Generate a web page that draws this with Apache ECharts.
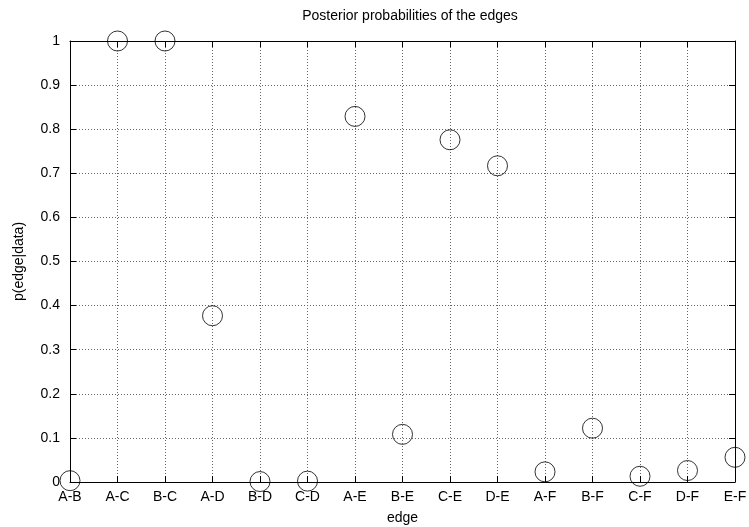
<!DOCTYPE html>
<html>
<head>
<meta charset="utf-8">
<script src="https://cdn.jsdelivr.net/npm/echarts@6/dist/echarts.min.js"></script>
<style>
html, body { margin: 0; padding: 0; background: #fff; }
#main { width: 749px; height: 527px; }
</style>
</head>
<body>
<div id="main"></div>
<script>
var edges = ['A-B', 'A-C', 'B-C', 'A-D', 'B-D', 'C-D', 'A-E', 'B-E', 'C-E', 'D-E', 'A-F', 'B-F', 'C-F', 'D-F', 'E-F'];
var probs = [0.003, 1.0, 1.0, 0.377, 0.001, 0.002, 0.829, 0.108, 0.776, 0.717, 0.023, 0.122, 0.013, 0.026, 0.056];

var font = 'Liberation Sans, Arial, sans-serif';
var chart = echarts.init(document.getElementById('main'));

var gridLine = { show: true, lineStyle: { color: '#666', type: [1, 2], width: 1 } };
var boxLine = { show: true, onZero: false, lineStyle: { color: '#000', width: 1 } };
var tickIn = { show: true, inside: true, length: 6, lineStyle: { color: '#000' } };

var option = {
    animation: false,
    backgroundColor: '#fff',
    title: {
        text: 'Posterior probabilities of the edges',
        left: 405,
        textAlign: 'center',
        top: 4,
        textStyle: { fontFamily: font, fontSize: 14, fontWeight: 'normal', color: '#000' }
    },
    grid: { left: 70, right: 14, top: 41, bottom: 45, outerBoundsMode: 'none', containLabel: false },
    xAxis: [{
        type: 'category',
        data: edges,
        boundaryGap: false,
        name: 'edge',
        nameLocation: 'middle',
        nameGap: 29,
        nameTextStyle: { fontFamily: font, fontSize: 14, color: '#000' },
        axisLine: boxLine,
        axisTick: tickIn,
        axisLabel: { fontFamily: font, fontSize: 14, color: '#000', margin: 8, interval: 0 },
        splitLine: gridLine
    }, {
        type: 'category',
        data: edges,
        boundaryGap: false,
        position: 'top',
        axisLine: boxLine,
        axisTick: tickIn,
        axisLabel: { show: false },
        splitLine: { show: false }
    }],
    yAxis: [{
        type: 'value',
        min: 0,
        max: 1,
        interval: 0.1,
        name: 'p(edge|data)',
        nameLocation: 'middle',
        nameGap: 44,
        nameTextStyle: { fontFamily: font, fontSize: 14, color: '#000' },
        axisLine: boxLine,
        axisTick: tickIn,
        axisLabel: { fontFamily: font, fontSize: 14, color: '#000', margin: 10 },
        splitLine: gridLine
    }, {
        type: 'value',
        min: 0,
        max: 1,
        interval: 0.1,
        position: 'right',
        axisLine: boxLine,
        axisTick: tickIn,
        axisLabel: { show: false },
        splitLine: { show: false }
    }],
    series: [{
        type: 'scatter',
        data: probs,
        symbol: 'circle',
        symbolSize: 20,
        clip: false,
        itemStyle: { color: 'rgba(0,0,0,0)', borderColor: '#000', borderWidth: 1 }
    }]
};

chart.setOption(option);
</script>
</body>
</html>
